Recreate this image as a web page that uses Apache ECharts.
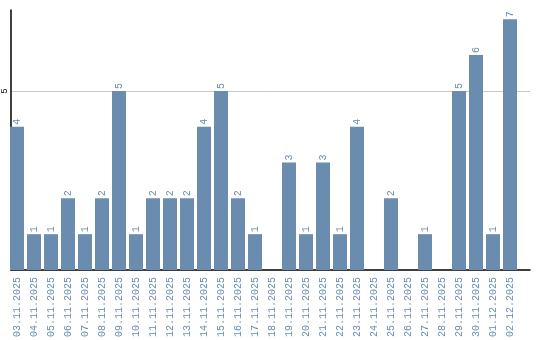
<!DOCTYPE html>
<html><head><meta charset="utf-8">
<script src="https://cdn.jsdelivr.net/npm/echarts@6/dist/echarts.min.js"></script>
<style>html,body{margin:0;padding:0;background:#fff}#c{width:540px;height:340px}</style>
</head><body><div id="c"></div>
<script>
const categories = ["03.11.2025","04.11.2025","05.11.2025","06.11.2025","07.11.2025","08.11.2025","09.11.2025","10.11.2025","11.11.2025","12.11.2025","13.11.2025","14.11.2025","15.11.2025","16.11.2025","17.11.2025","18.11.2025","19.11.2025","20.11.2025","21.11.2025","22.11.2025","23.11.2025","24.11.2025","25.11.2025","26.11.2025","27.11.2025","28.11.2025","29.11.2025","30.11.2025","01.12.2025","02.12.2025"];
const values = [4,1,1,2,1,2,5,1,2,2,2,4,5,2,1,0,3,1,3,1,4,0,2,0,1,0,5,6,1,7];
const yTicks = [5];
const yMax = 7.26;

const chart = echarts.init(document.getElementById('c'), null, {renderer:'canvas'});
const labelColor = '#6a8cb0';
const font = '"Liberation Mono", "DejaVu Sans Mono", monospace';
chart.setOption({
  animation:false,
  grid:[
    {left:8.5, width:510, top:10, bottom:70},
    {left:10, right:10, top:10, bottom:70}
  ],
  xAxis:[
    {type:'category', gridIndex:0, data:categories,
     axisLine:{show:false}, axisTick:{show:false},
     axisLabel:{rotate:90, interval:0, color:labelColor, fontFamily:font, fontSize:10, margin:7}},
    {type:'value', gridIndex:1, min:0, max:1, axisLine:{show:true, onZero:false, lineStyle:{color:'#000', width:1.5}},
     axisTick:{show:false}, axisLabel:{show:false}, splitLine:{show:false}}
  ],
  yAxis:[
    {type:'value', gridIndex:0, min:0, max:yMax, show:false},
    {type:'value', gridIndex:1, min:0, max:yMax, interval:5,
     axisLine:{show:true, lineStyle:{color:'#000', width:1.5}}, axisTick:{show:false},
     axisLabel:{rotate:90, color:'#000', fontFamily:font, fontSize:9, margin:2,
       formatter:v => yTicks.includes(v) ? String(v) : ''},
     splitLine:{show:true, lineStyle:{color:['rgba(0,0,0,0)','#c8c8c8','rgba(0,0,0,0)'], width:1}}}
  ],
  series:[{
    type:'bar', xAxisIndex:0, yAxisIndex:0, data:values,
    barWidth:14,
    itemStyle:{color:'#6a8caf'},
    label:{show:true, position:'top', rotate:90, align:'left', verticalAlign:'middle', distance:2,
      color:labelColor, fontFamily:font, fontSize:10,
      formatter:p => p.value > 0 ? String(p.value) : ''}
  }]
});
</script></body></html>
